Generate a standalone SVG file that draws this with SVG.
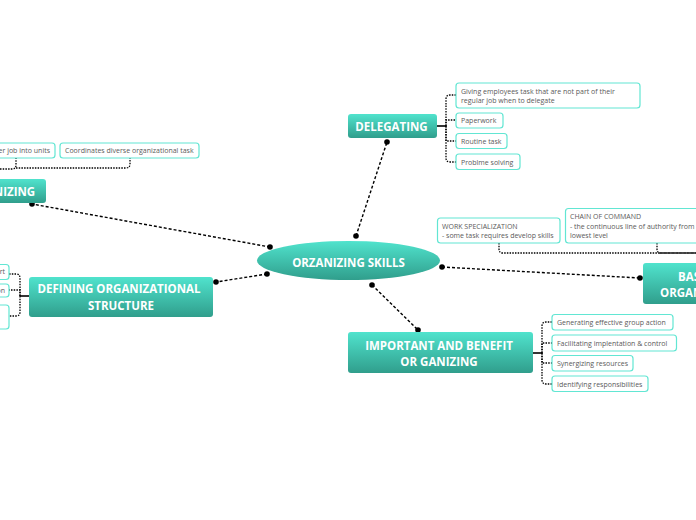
<svg xmlns="http://www.w3.org/2000/svg" width="696" height="520" viewBox="0 0 696 520">
<defs>
<linearGradient id="g" x1="0" y1="0" x2="0" y2="1">
<stop offset="0" stop-color="#50e3cd"/>
<stop offset="1" stop-color="#309e8c"/>
</linearGradient>
<style>
.n{fill:url(#g);}
.nt{font-family:"Open Sans","Liberation Sans",sans-serif;font-weight:bold;font-size:11.5px;fill:#fff;text-anchor:middle;}
.ns{text-anchor:start;}
.s{fill:#fff;stroke:#62e6d3;stroke-width:1.2;}
.st{font-family:"Open Sans","Liberation Sans",sans-serif;font-size:7px;fill:#5a5a5a;}
.se{text-anchor:end;}
.c{fill:none;stroke:#000;stroke-width:1.4;stroke-dasharray:3 2;}
.b{fill:none;stroke:#000;stroke-width:1.3;stroke-dasharray:1.5 1.2;}
.sl{fill:none;stroke:#000;stroke-width:1.6;}
.d{fill:#000;}
</style>
</defs>
<rect width="696" height="520" fill="#fff"/>

<g id="connectors">
<line class="c" x1="356" y1="236" x2="387" y2="142"/>
<circle class="d" cx="356" cy="236" r="2.8"/><circle class="d" cx="387" cy="142" r="2.8"/>
<line class="c" x1="270" y1="247" x2="32" y2="204"/>
<circle class="d" cx="270" cy="247" r="2.8"/><circle class="d" cx="32" cy="204" r="2.8"/>
<line class="c" x1="267" y1="274" x2="216" y2="282"/>
<circle class="d" cx="267" cy="274" r="2.8"/><circle class="d" cx="216" cy="282" r="2.8"/>
<line class="c" x1="442" y1="267" x2="640" y2="278"/>
<circle class="d" cx="442" cy="267" r="2.8"/><circle class="d" cx="640" cy="278" r="2.8"/>
<line class="c" x1="372" y1="285" x2="418" y2="330"/>
<circle class="d" cx="372" cy="285" r="2.8"/><circle class="d" cx="418" cy="330" r="2.8"/>

<line class="sl" x1="437" y1="126" x2="446" y2="126"/>
<path class="b" d="M446 126 V99 Q446 95 450 95 H456"/>
<path class="b" d="M446 126 V120 H456"/>
<path class="b" d="M446 126 V141 H456"/>
<path class="b" d="M446 126 V158 Q446 162 450 162 H456"/>

<line class="sl" x1="533" y1="353" x2="542" y2="353"/>
<path class="b" d="M542 353 V326 Q542 322 546 322 H552"/>
<path class="b" d="M542 353 V343 H552"/>
<path class="b" d="M542 353 V363 H552"/>
<path class="b" d="M542 353 V380 Q542 384 546 384 H552"/>

<line class="sl" x1="29" y1="296" x2="20" y2="296"/>
<path class="b" d="M20 296 V278 Q20 274 16 274 H9"/>
<path class="b" d="M20 296 V290 H9"/>
<path class="b" d="M20 296 V312 Q20 316 16 316 H9"/>

<path class="b" d="M0 169 H12 Q16 169 16 165 V158"/>
<path class="b" d="M16 168 H126 Q130 168 130 164 V158"/>

<path class="b" d="M499 243 V249 Q499 253 503 253 H696"/>
<path class="b" d="M657 243 V249 Q657 253 661 253 H696"/>
</g>

<g id="center">
<ellipse class="n" cx="348.5" cy="260.5" rx="91.5" ry="19.5"/>
<text class="nt" x="348.5" y="266.5">ORZANIZING SKILLS</text>
</g>

<g id="delegating">
<rect class="n" x="348" y="114" width="89" height="24" rx="3"/>
<text class="nt" x="391.5" y="130.5">DELEGATING</text>
</g>
<g id="del-s1">
<rect class="s" x="456" y="83" width="184" height="25" rx="3"/>
<text class="st" x="461" y="94">Giving  employees task that  are not part of their</text>
<text class="st" x="461" y="103">regular job when to delegate</text>
</g>
<g id="del-s2">
<rect class="s" x="456" y="113" width="47" height="15" rx="3"/>
<text class="st" x="461" y="123">Paperwork</text>
</g>
<g id="del-s3">
<rect class="s" x="456" y="133.5" width="51" height="15" rx="3"/>
<text class="st" x="461" y="143.5">Routine task</text>
</g>
<g id="del-s4">
<rect class="s" x="456" y="154" width="64" height="15.5" rx="3"/>
<text class="st" x="461" y="164.5">Problme solving</text>
</g>

<g id="organizing">
<rect class="n" x="-50" y="179" width="96" height="24" rx="3"/>
<text class="nt" x="-2" y="195.5">ORGANIZING</text>
</g>
<g id="org-s1">
<rect class="s" x="-120" y="143" width="175" height="15" rx="3"/>
<text class="st se" x="50" y="153">Group together job into units</text>
</g>
<g id="org-s2">
<rect class="s" x="60" y="143" width="139" height="15" rx="3"/>
<text class="st" x="65" y="153">Coordinates diverse organizational task</text>
</g>

<g id="defining">
<rect class="n" x="29" y="277" width="184" height="40" rx="3"/>
<text class="nt" x="119" y="292.5">DEFINING ORGANIZATIONAL</text>
<text class="nt" x="121" y="309.5">STRUCTURE</text>
</g>
<g id="def-s1">
<rect class="s" x="-60" y="264.5" width="69" height="15" rx="3"/>
<text class="st se" x="5" y="274">Report</text>
</g>
<g id="def-s2">
<rect class="s" x="-60" y="284" width="69" height="13" rx="3"/>
<text class="st se" x="5" y="293">Position</text>
</g>
<g id="def-s3">
<rect class="s" x="-60" y="305" width="69" height="24" rx="3"/>
</g>

<g id="basic">
<rect class="n" x="643" y="263" width="200" height="41" rx="3"/>
<text class="nt ns" x="678" y="281">BASIC ELEMENTS OF</text>
<text class="nt ns" x="660" y="297">ORGANIZATIONAL STRUCTURE</text>
</g>
<g id="basic-s1">
<rect class="s" x="437.5" y="218" width="122.5" height="25" rx="3"/>
<text class="st" x="442" y="229">WORK SPECIALIZATION</text>
<text class="st" x="442" y="238">- some task requires develop skills</text>
</g>
<g id="basic-s2">
<rect class="s" x="565.5" y="208.5" width="170" height="34.5" rx="3"/>
<text class="st" x="570" y="219">CHAIN OF COMMAND</text>
<text class="st" x="570" y="229">- the continuous line of authority from top to the</text>
<text class="st" x="570" y="238">lowest level</text>
</g>

<g id="important">
<rect class="n" x="348" y="332" width="185" height="41" rx="3"/>
<text class="nt" x="439" y="350">IMPORTANT AND BENEFIT</text>
<text class="nt" x="439" y="366">OR GANIZING</text>
</g>
<g id="imp-s1">
<rect class="s" x="552" y="314.5" width="121" height="15.5" rx="3"/>
<text class="st" x="557" y="325">Generating effective group action</text>
</g>
<g id="imp-s2">
<rect class="s" x="552" y="335" width="124.5" height="16" rx="3"/>
<text class="st" x="557" y="346">Facilitating implentation  &amp; control</text>
</g>
<g id="imp-s3">
<rect class="s" x="552" y="355.5" width="81" height="15.5" rx="3"/>
<text class="st" x="557" y="366">Synergizing resources</text>
</g>
<g id="imp-s4">
<rect class="s" x="552" y="376" width="96" height="15.5" rx="3"/>
<text class="st" x="557" y="386.5">Identifying responsibilities</text>
</g>
</svg>
